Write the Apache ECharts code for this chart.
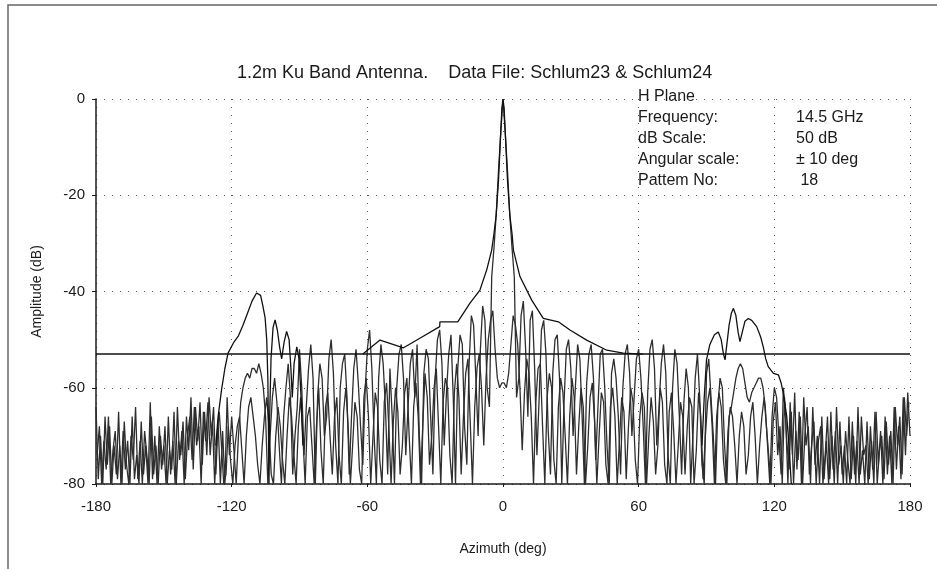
<!DOCTYPE html>
<html>
<head>
<meta charset="utf-8">
<script src="https://cdn.jsdelivr.net/npm/echarts@6/dist/echarts.min.js"></script>
<style>
html, body { margin: 0; padding: 0; background: #fff; }
#chart { width: 938px; height: 570px; }
</style>
</head>
<body>
<div id="chart"></div>
<script>
// azimuth tick labels / amplitude ticks
var azTicks = [-180, -120, -60, 0, 60, 120, 180];
var ampTicks = [0, -20, -40, -60, -80];

// Schlum23 - measured pattern, one reading per degree from -180 to 180
var schlum23Start = -180;
var schlum23 = [
	-64,-79,-70,-80,-66,-76,-68,-80,-72,-78,
	-65,-80,-69,-77,-71,-80,-66,-79,-74,-80,
	-67,-78,-72,-80,-63,-79,-70,-80,-68,-77,
	-72,-80,-66,-78,-71,-80,-64,-75,-69,-80,
	-66,-73,-62,-77,-64,-71,-63,-76,-65,-74,
	-62,-70,-64,-78,-67,-80,-69,-80,-62,-74,
	-66,-73,-80,-70,-63,-60,-58,-57,-58,-56,
	-56,-57,-55,-57,-60,-66,-80,-70,-62,-58,
	-63,-72,-80,-66,-60,-55,-62,-78,-70,-64,
	-52,-60,-74,-64,-56,-51,-58,-80,-62,-55,
	-58,-70,-66,-54,-50,-57,-72,-80,-60,-55,
	-53,-62,-78,-66,-56,-52,-59,-68,-76,-61,
	-52,-48,-56,-70,-80,-58,-51,-55,-64,-78,
	-56,-66,-80,-60,-53,-51,-58,-74,-64,-55,
	-52,-62,-51,-70,-80,-57,-52,-54,-66,-78,
	-58,-50,-48,-55,-72,-61,-53,-49,-62,-80,
	-56,-49,-51,-68,-76,-55,-45,-47,-58,-70,
	-52,-43,-46,-60,-64,-37,-31,-24,-15,-7,
	0,
	-7,-15,-24,-31,-37,-62,-58,-45,-42,-52,
	-66,-46,-44,-56,-74,-62,-48,-46,-53,-69,
	-78,-57,-50,-49,-58,-80,-63,-52,-50,-56,
	-70,-60,-51,-54,-66,-80,-59,-53,-51,-58,
	-75,-64,-53,-52,-60,-72,-80,-57,-54,-58,
	-66,-78,-60,-53,-51,-57,-70,-62,-54,-52,
	-58,-68,-80,-61,-52,-50,-56,-72,-64,-55,
	-51,-57,-74,-80,-60,-52,-55,-66,-78,-63,
	-56,-60,-80,-70,-58,-53,-62,-76,-80,-57,
	-54,-62,-70,-80,-64,-58,-60,-72,-80,-66,
	-64,-61,-58,-56,-55,-56,-59,-62,-63,-61,
	-60,-59,-58,-58,-60,-64,-72,-80,-66,-60,
	-62,-70,-78,-60,-66,-80,-63,-74,-61,-77,
	-65,-80,-62,-72,-68,-80,-64,-76,-70,-80,
	-66,-79,-71,-80,-65,-77,-69,-80,-67,-78,
	-72,-80,-66,-79,-70,-80,-64,-78,-73,-80,
	-67,-79,-71,-80,-65,-76,-69,-80,-66,-78,
	-70,-80,-64,-77,-68,-79,-62,-74,-61,-70
];

// Schlum24 - second measured pattern, one reading per degree from -179.5 to 179.5
var schlum24Start = -179.5;
var schlum24 = [
	-74,-68,-80,-71,-77,-66,-80,-73,-69,-79,
	-72,-80,-67,-76,-80,-70,-75,-64,-79,-71,
	-80,-69,-74,-80,-66,-78,-72,-80,-70,-76,
	-68,-80,-73,-77,-65,-80,-71,-74,-67,-79,
	-70,-66,-75,-64,-72,-68,-80,-65,-71,-63,
	-74,-67,-80,-70,-65,-72,-80,-78,-68,-75,
	-80,-72,-68,-66,-73,-80,-70,-64,-62,-66,
	-70,-76,-80,-72,-66,-62,-68,-78,-80,-70,
	-64,-68,-75,-80,-70,-62,-66,-74,-80,-68,
	-62,-70,-80,-66,-64,-72,-80,-68,-60,-73,
	-80,-64,-61,-70,-78,-66,-62,-74,-80,-65,
	-60,-68,-80,-72,-63,-66,-77,-80,-62,-58,
	-66,-80,-70,-61,-64,-75,-80,-63,-59,-68,
	-80,-67,-60,-65,-78,-72,-61,-58,-70,-80,
	-64,-59,-66,-80,-68,-57,-62,-76,-70,-60,
	-56,-68,-80,-63,-58,-60,-74,-80,-61,-55,
	-62,-78,-66,-57,-54,-67,-80,-64,-56,-53,
	-60,-72,-58,-50,-46,-44,-52,-58,-60,-59,
	-59,-60,-57,-51,-45,-47,-51,-60,-73,-61,
	-54,-57,-66,-80,-63,-56,-55,-68,-80,-62,
	-57,-60,-75,-80,-64,-58,-61,-70,-80,-66,
	-58,-62,-78,-68,-60,-64,-80,-72,-62,-59,
	-67,-80,-70,-61,-63,-76,-80,-64,-60,-66,
	-80,-71,-62,-65,-79,-68,-60,-63,-75,-80,
	-66,-61,-64,-80,-70,-62,-67,-78,-72,-60,
	-63,-76,-80,-65,-61,-69,-80,-72,-63,-66,
	-78,-68,-62,-64,-80,-73,-61,-66,-79,-70,
	-63,-60,-68,-80,-66,-61,-64,-75,-80,-69,
	-64,-66,-72,-80,-70,-65,-68,-78,-74,-66,
	-63,-70,-80,-72,-66,-62,-68,-74,-80,-67,
	-63,-74,-68,-80,-62,-71,-77,-65,-80,-69,
	-75,-66,-80,-70,-64,-78,-72,-67,-80,-71,
	-68,-80,-74,-66,-79,-70,-80,-64,-76,-72,
	-80,-69,-75,-80,-67,-78,-71,-80,-66,-74,
	-72,-80,-68,-77,-65,-80,-73,-70,-79,-67,
	-76,-69,-80,-64,-72,-66,-78,-62,-70,-63
];

// envelope over the main beam region [azimuth, dB]
var envelopeAz = [-62, -54.4, -44, -36, -28, -27.9, -20, -14.6, -10.2, -7.2, -5, -4, -3, -2, -1.2, -0.5, 0,
	0.5, 1.2, 2, 3, 4, 4.6, 7.5, 12.7, 17.8, 24.5, 29.6, 37, 45.9, 53.2, 62];
var envelopeDb = [-53, -50.1, -51.7, -49.5, -47.3, -46.3, -46.3, -42.4, -39.7, -35.5, -31.4, -28, -24, -17, -9, -2, 0,
	-2, -9, -17, -24, -28, -31.4, -36.9, -41.8, -45.6, -46.3, -48, -50.1, -52.2, -52.8, -53];

// wide angle lobes near -110 and +105 deg
var spillLeftAz = [-127, -126, -124.5, -123, -121.6, -119, -117, -115, -113, -111, -109, -108.2, -107.2, -106.2, -105.2,
	-104.5, -104, -103.7, -103.5, -103.2, -102.6, -101.7, -100.8, -99.8, -98.8, -97.9, -96.8, -95.7, -94.6, -93.8,
	-93.2, -92.4, -91.2, -90.2, -89.3, -88.5];
var spillLeftDb = [-72, -66, -60.5, -56, -52.8, -50.5, -49.2, -47, -44.5, -42, -40.3, -40, -40.8, -43, -45.5,
	-50, -58, -70, -80, -66, -54, -47.5, -45.9, -48, -51.5, -54, -50.5, -48.3, -50, -56,
	-62, -55, -51.5, -54, -62, -72];
var spillRightAz = [88, 89, 90, 91.5, 93.5, 95.2, 96.5, 97.5, 98.2, 99, 100, 101, 101.9, 103, 104, 104.8, 105.8, 107,
	108.5, 110, 112.2, 114, 115.1, 116.2, 117.3, 119.6, 121.8, 123, 124, 125.5, 126.5, 127.5];
var spillRightDb = [-72, -62, -54.2, -51, -49, -48.4, -50, -53, -54.2, -51, -47, -44.5, -43.5, -45, -48.5, -50.4, -48.5, -46.2,
	-45.6, -46, -47.3, -49.5, -51.5, -54, -55.6, -57, -57.3, -59, -61.2, -66, -72, -80];

// horizontal limit line
var limitDb = -53;

var textInfo = [
	['H Plane', ''],
	['Frequency:', '14.5 GHz'],
	['dB Scale:', '50 dB'],
	['Angular scale:', '\u00b1 10 deg'],
	['Pattem No:', ' 18']
];

function stepped(start, step, vals) {
	var out = [];
	for (var i = 0; i < vals.length; i++) {
		out.push([start + i * step, vals[i]]);
	}
	return out;
}
function paired(xs, ys) {
	var out = [];
	for (var i = 0; i < xs.length; i++) {
		out.push([xs[i], ys[i]]);
	}
	return out;
}

var FONT = '"Liberation Sans", Arial, sans-serif';
var INK = '#1b1b1b';

var graphics = [
	{
		type: 'polyline',
		shape: { points: [[8, 569], [8, 5], [937, 5]] },
		style: { stroke: '#666', lineWidth: 1.5, fill: null },
		silent: true
	}
];
for (var r = 0; r < textInfo.length; r++) {
	graphics.push({
		type: 'text', left: 638, top: 89 + r * 21,
		style: { text: textInfo[r][0], font: '16px ' + FONT, fill: INK }
	});
	if (textInfo[r][1]) {
		graphics.push({
			type: 'text', left: 796, top: 89 + r * 21,
			style: { text: textInfo[r][1], font: '16px ' + FONT, fill: INK }
		});
	}
}

var lineStyleThin = { color: '#2e2e2e', width: 1.3 };
var lineStyleBold = { color: '#111', width: 1.3 };

var option = {
	animation: false,
	backgroundColor: '#fff',
	title: {
		text: '1.2m Ku Band Antenna.    Data File: Schlum23 & Schlum24',
		left: 232,
		top: 59,
		textStyle: { fontFamily: FONT, fontSize: 18, fontWeight: 'normal', color: INK }
	},
	grid: { left: 96, right: 28, top: 99, bottom: 86 },
	xAxis: {
		type: 'value',
		min: azTicks[0],
		max: azTicks[azTicks.length - 1],
		interval: 60,
		name: 'Azimuth (deg)',
		nameLocation: 'middle',
		nameGap: 58,
		nameTextStyle: { fontFamily: FONT, fontSize: 14, color: INK },
		axisLine: { onZero: false, lineStyle: { color: INK, width: 1.5 } },
		axisTick: { length: 3, lineStyle: { color: INK } },
		axisLabel: { fontFamily: FONT, fontSize: 15, color: INK, margin: 15 },
		splitLine: { show: true, lineStyle: { color: '#555', type: [1, 7], width: 1 } }
	},
	yAxis: {
		type: 'value',
		min: ampTicks[ampTicks.length - 1],
		max: ampTicks[0],
		interval: 20,
		name: 'Amplitude (dB)',
		nameLocation: 'middle',
		nameRotate: 90,
		nameGap: 52,
		nameTextStyle: { fontFamily: FONT, fontSize: 14, color: INK },
		axisLine: { show: true, onZero: false, lineStyle: { color: INK, width: 1.5 } },
		axisTick: { show: true, length: 4, lineStyle: { color: INK } },
		axisLabel: { fontFamily: FONT, fontSize: 15, color: INK, margin: 11 },
		splitLine: { show: true, lineStyle: { color: '#555', type: [1, 7], width: 1 } }
	},
	series: [
		{ name: 'Schlum23', type: 'line', showSymbol: false, symbol: 'none', data: stepped(schlum23Start, 1, schlum23), lineStyle: lineStyleThin },
		{ name: 'Schlum24', type: 'line', showSymbol: false, symbol: 'none', data: stepped(schlum24Start, 1, schlum24), lineStyle: lineStyleThin },
		{ name: 'Envelope', type: 'line', showSymbol: false, symbol: 'none', data: paired(envelopeAz, envelopeDb), lineStyle: lineStyleBold },
		{ name: 'Wide left', type: 'line', showSymbol: false, symbol: 'none', data: paired(spillLeftAz, spillLeftDb), lineStyle: lineStyleBold },
		{ name: 'Wide right', type: 'line', showSymbol: false, symbol: 'none', data: paired(spillRightAz, spillRightDb), lineStyle: lineStyleBold },
		{ name: 'Limit', type: 'line', showSymbol: false, symbol: 'none', data: [[azTicks[0], limitDb], [azTicks[azTicks.length - 1], limitDb]], lineStyle: { color: '#111', width: 1.5 } }
	],
	graphic: graphics
};

var myChart = echarts.init(document.getElementById('chart'));
myChart.setOption(option);
</script>
</body>
</html>
